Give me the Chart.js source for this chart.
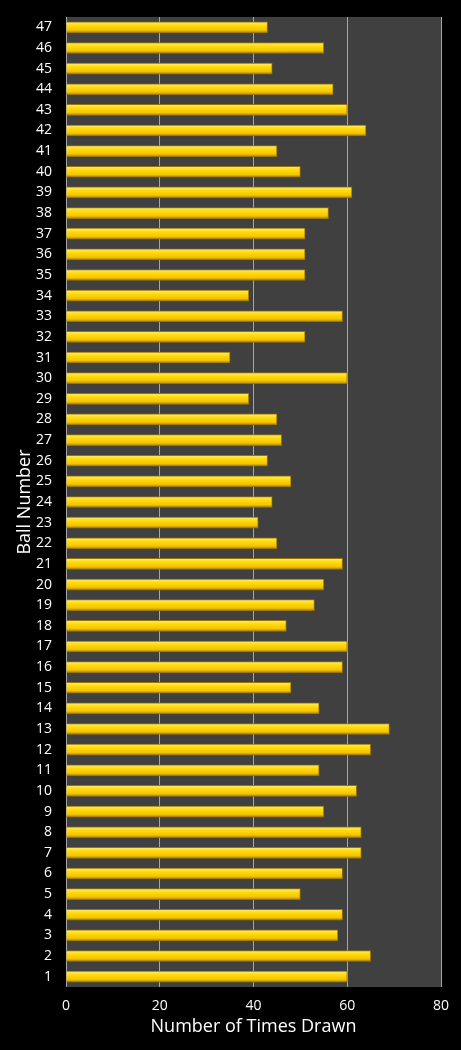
<!DOCTYPE html>
<html>
<head>
<meta charset="utf-8">
<script src="https://cdn.jsdelivr.net/npm/chart.js@4"></script>
<style>
    html, body { margin: 0; padding: 0; background: #000; }
    #wrap { width: 461px; height: 1050px; position: relative; }
</style>
</head>
<body>
<div id="wrap"><canvas id="ballChart"></canvas></div>
<script>
// Ball numbers, top of the chart first
const balls = [47, 46, 45, 44, 43, 42, 41, 40, 39, 38, 37, 36, 35, 34, 33, 32,
    31, 30, 29, 28, 27, 26, 25, 24, 23, 22, 21, 20, 19, 18, 17, 16,
    15, 14, 13, 12, 11, 10, 9, 8, 7, 6, 5, 4, 3, 2, 1];

// Times drawn, same order as balls
const timesDrawn = [43, 55, 44, 57, 60, 64, 45, 50, 61, 56, 51, 51, 51, 39, 59, 51,
    35, 60, 39, 45, 46, 43, 48, 44, 41, 45, 59, 55, 53, 47, 60, 59,
    48, 54, 69, 65, 54, 62, 55, 63, 63, 59, 50, 59, 58, 65, 60];

const xTicks = [0, 20, 40, 60, 80];

const FONT = '"Open Sans", "DejaVu Sans", sans-serif';
const BAR_H = 11;

// dark grey plot area behind the bars
const plotBackground = {
    id: 'plotBackground',
    beforeDraw(chart) {
        const { ctx, chartArea: a } = chart;
        ctx.save();
        ctx.fillStyle = '#404040';
        ctx.fillRect(a.left, a.top, a.right - a.left, a.bottom - a.top);
        ctx.restore();
    }
};

// yellow bars with a glossy vertical shade
function barFill(context) {
    const chart = context.chart;
    const yScale = chart.scales.y;
    if (!yScale || context.dataIndex === undefined) return '#ffd700';
    const c = yScale.getPixelForValue(context.dataIndex);
    if (!isFinite(c)) return '#ffd700';
    const g = chart.ctx.createLinearGradient(0, c - BAR_H / 2, 0, c + BAR_H / 2);
    g.addColorStop(0, '#ffec70');
    g.addColorStop(0.35, '#ffda0a');
    g.addColorStop(0.75, '#f4c400');
    g.addColorStop(1, '#a98300');
    return g;
}

const ctx = document.getElementById('ballChart').getContext('2d');
new Chart(ctx, {
    type: 'bar',
    data: {
        labels: balls.map(String),
        datasets: [{
            label: 'Number of Times Drawn',
            data: timesDrawn,
            backgroundColor: barFill,
            borderColor: '#9a7600',
            borderWidth: 1,
            borderSkipped: 'start',
            barThickness: BAR_H
        }]
    },
    options: {
        indexAxis: 'y',
        responsive: true,
        maintainAspectRatio: false,
        animation: false,
        devicePixelRatio: 1,
        layout: { padding: { top: 17, right: 20, bottom: 0, left: 0 } },
        plugins: {
            legend: { display: false },
            tooltip: { enabled: false }
        },
        scales: {
            x: {
                min: 0,
                max: 80,
                afterBuildTicks: axis => { axis.ticks = xTicks.map(v => ({ value: v })); },
                afterFit: axis => { axis.height = 63; },
                grid: { color: '#a6a6a6', lineWidth: 1, drawTicks: false },
                border: { display: false },
                ticks: { color: '#ffffff', padding: 11, font: { family: FONT, size: 14 } },
                title: {
                    display: true,
                    text: 'Number of Times Drawn',
                    color: '#ffffff',
                    font: { family: FONT, size: 18 },
                    padding: { top: 0, bottom: 12 }
                }
            },
            y: {
                afterFit: axis => {
                    axis.width = 66;
                    // labels should not push the plot area down
                    axis.paddingTop = 0;
                    axis.paddingBottom = 0;
                },
                grid: { display: false, drawTicks: false },
                border: { display: false },
                ticks: { color: '#ffffff', padding: 14, font: { family: FONT, size: 14 }, autoSkip: false },
                title: {
                    display: true,
                    text: 'Ball Number',
                    color: '#ffffff',
                    font: { family: FONT, size: 18 },
                    padding: { top: 14, bottom: 0 }
                }
            }
        }
    },
    plugins: [plotBackground]
});
</script>
</body>
</html>
